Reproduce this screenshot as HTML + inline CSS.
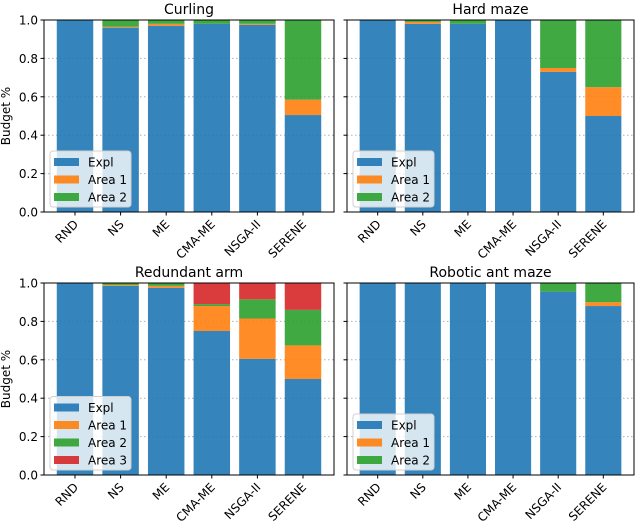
<!DOCTYPE html>
<html><head><meta charset="utf-8"><style>
body{margin:0;background:#fff;width:640px;height:524px;overflow:hidden}
svg{font-family:"DejaVu Sans","Liberation Sans",sans-serif}
</style></head><body>
<svg id="chart" width="640" height="524" xmlns="http://www.w3.org/2000/svg"></svg>
<script>
const categories = ["RND","NS","ME","CMA-ME","NSGA-II","SERENE"];
const yTicks = [0,0.2,0.4,0.6,0.8,1.0];
const titles = ["Curling","Hard maze","Redundant arm","Robotic ant maze"];
const curlingExpl = [1.0,0.96,0.97,0.98,0.975,0.505];
const curlingA1 = [0,0.005,0.01,0,0.005,0.08];
const curlingA2 = [0,0.035,0.02,0.02,0.02,0.415];
const hardExpl = [1.0,0.98,0.98,1.0,0.73,0.5];
const hardA1 = [0,0.01,0,0,0.02,0.15];
const hardA2 = [0,0.01,0.02,0,0.25,0.35];
const armExpl = [1.0,0.985,0.975,0.75,0.605,0.5];
const armA1 = [0,0.005,0.01,0.13,0.21,0.175];
const armA2 = [0,0.01,0.015,0.01,0.1,0.185];
const armA3 = [0,0,0,0.11,0.085,0.14];
const antExpl = [1.0,1.0,1.0,1.0,0.955,0.88];
const antA1 = [0,0,0,0,0,0.02];
const antA2 = [0,0,0,0,0.045,0.1];
const seriesNames = ["Expl","Area 1","Area 2","Area 3"];
const colors = ["#1f77b4","#ff7f0e","#2ca02c","#d62728"];
const panels = [
 {x0:44,x1:334,y0:20,y1:212,series:[curlingExpl,curlingA1,curlingA2],ylab:true},
 {x0:347,x1:634,y0:20,y1:212,series:[hardExpl,hardA1,hardA2],ylab:false},
 {x0:44,x1:334,y0:283,y1:475,series:[armExpl,armA1,armA2,armA3],ylab:true},
 {x0:347,x1:634,y0:283,y1:475,series:[antExpl,antA1,antA2],ylab:false}
];
const NS="http://www.w3.org/2000/svg";
const svg=document.getElementById('chart');
function mk(tag,attrs,parent){const e=document.createElementNS(NS,tag);for(const k in attrs)e.setAttribute(k,attrs[k]);(parent||svg).appendChild(e);return e;}
panels.forEach((p,pi)=>{
 const g=mk('g',{});
 
 
 const n=categories.length, step=(p.x1-p.x0)/(n+0.36);
 const xc=i=>p.x0+step*0.68+i*step;
 const bw=step*0.8;
 const ys=v=>p.y1-v*(p.y1-p.y0);
 yTicks.forEach(t=>{
  const l=mk('line',{x1:p.x0,x2:p.x1,y1:ys(t),y2:ys(t),stroke:'#b0b0b0','stroke-width':1,'stroke-dasharray':'1.5,2.5'},g);
  
  
 });
 categories.forEach((c,i)=>{
  let base=0;
  p.series.forEach((s,si)=>{
   const v=s[i]; if(v<=0)return;
   const r=mk('rect',{x:xc(i)-bw/2,y:ys(base+v),width:bw,height:ys(base)-ys(base+v),fill:colors[si],'fill-opacity':0.9},g);
   
   
   base+=v;
  });
 });
 const fr=mk('rect',{x:p.x0,y:p.y0,width:p.x1-p.x0,height:p.y1-p.y0,fill:'none',stroke:'#000','stroke-width':1},g);
 
 
 yTicks.forEach(t=>{
  mk('line',{x1:p.x0-3.5,x2:p.x0,y1:ys(t),y2:ys(t),stroke:'#000'},g);
  if(p.ylab){
   const tx=mk('text',{x:p.x0-6,y:ys(t)+4.5,'text-anchor':'end','font-size':12},g);
   tx.textContent=t.toFixed(1);
   
   
  }
 });
 categories.forEach((c,i)=>{
  mk('line',{x1:xc(i),x2:xc(i),y1:p.y1,y2:p.y1+3.5,stroke:'#000'},g);
  const tx=mk('text',{x:xc(i)+4,y:p.y1+13,'text-anchor':'end','font-size':12,transform:`rotate(-45 ${xc(i)+4} ${p.y1+13})`},g);
  tx.textContent=c;
  
  
 });
 const tt=mk('text',{x:(p.x0+p.x1)/2,y:p.y0-6,'text-anchor':'middle','font-size':14},g);
 tt.textContent=titles[pi];
 
 
 if(p.ylab){
  const yl=mk('text',{x:0,y:0,'text-anchor':'middle','font-size':12,transform:`translate(10 ${(p.y0+p.y1)/2}) rotate(-90)`},g);
  yl.textContent='Budget %';
  
  
 }
 const ns=p.series.length;
 const lh=17.5, lx=p.x0+6, lbot=p.y1-5, ltop=lbot-ns*lh-3.5;
 const lg=mk('g',{},g);
 
 
 mk('rect',{x:lx,y:ltop,width:81,height:lbot-ltop,rx:3,fill:'#fff','fill-opacity':0.8,stroke:'#d0d0d0'},lg);
 for(let si=0;si<ns;si++){
  const yy=ltop+3+si*lh;
  const sw=mk('rect',{x:lx+4,y:yy+4,width:25,height:8,fill:colors[si],'fill-opacity':0.9},lg);
  
  
  const lt=mk('text',{x:lx+38,y:yy+12.5,'font-size':12},lg);
  lt.textContent=seriesNames[si];
  
  
 }
});
</script>
</body></html>
